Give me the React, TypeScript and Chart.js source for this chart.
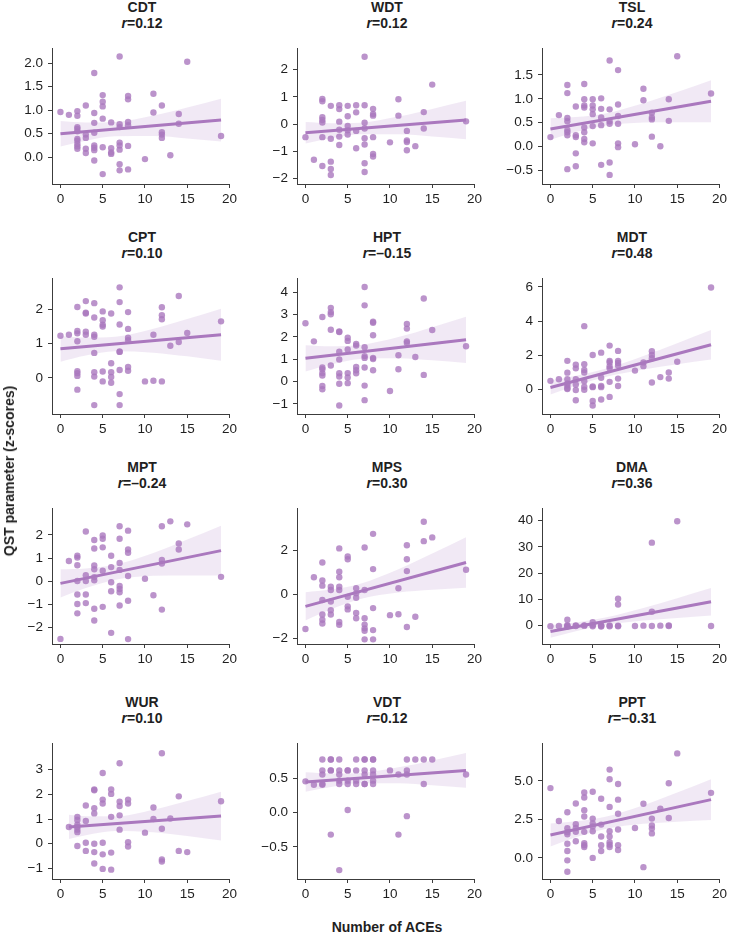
import React, { useEffect, useRef } from "react";
import { Chart, registerables } from "chart.js";

Chart.register(...registerables);

// ---------- shared axis values ----------
const aceTicks = [0, 5, 10, 15, 20];
const bandX = [0, 3, 6.5, 11, 15, 19];
const bandXWur = [1, 3, 6.5, 11, 15, 19];

// ---------- CDT ----------
const cdtPoints = [
  [0, 0.96], [1, 0.9],
  [2, 0.98], [2, 0.88], [2, 0.64], [2, 0.6], [2, 0.55], [2, 0.39], [2, 0.35], [2, 0.28], [2, 0.23], [2, 0.18],
  [3, 1.1], [3, 0.48], [3, 0.41], [3, 0.18], [3, 0.09],
  [4, 1.79], [4, 0.94], [4, 0.73], [4, 0.52], [4, 0.25], [4, 0.2], [4, 0.15], [4, -0.07],
  [5, 1.32], [5, 1.18], [5, 1.08], [5, 0.82], [5, 0.21], [5, -0.36],
  [6, 0.74], [6, 0.19], [6, 0.1], [6, 0.07],
  [7, 2.14], [7, 0.7], [7, 0.64], [7, 0.31], [7, 0.25], [7, 0.16], [7, -0.15], [7, -0.28],
  [8, 1.3], [8, 1.23], [8, 0.75], [8, 0.68], [8, 0.24], [8, -0.26],
  [10, -0.04], [11, 1.35], [11, 0.95], [12, 1.1], [12, 0.53], [12, 0.48], [12, 0.41],
  [13, 0.04], [14, 0.92], [14, 0.71], [15, 2.03], [19, 0.45],
];
const cdtFit = [0.5, 0.79];
const cdtHi = [0.77, 0.74, 0.75, 0.885, 1.058, 1.245];
const cdtLo = [0.23, 0.352, 0.447, 0.451, 0.4, 0.335];
const cdtTicks = [0, 0.5, 1, 1.5, 2];

// ---------- WDT ----------
const wdtPoints = [
  [0, -0.48], [1, -1.31],
  [2, 0.92], [2, 0.84], [2, 0.25], [2, 0.15], [2, 0.06], [2, -0.48], [2, -1.54],
  [3, 0.67], [3, -0.54], [3, -1.38], [3, -1.65], [3, -1.87],
  [4, 0.69], [4, 0.55], [4, 0.09], [4, -0.21], [4, -0.46], [4, -0.77],
  [5, 0.67], [5, 0.29], [5, -0.07], [5, -0.23], [5, -0.38],
  [6, 0.69], [6, 0.43], [6, -0.25], [6, -0.89],
  [7, 2.47], [7, 0.69], [7, 0.05], [7, -0.16], [7, -0.52], [7, -0.75], [7, -1.44], [7, -1.76],
  [8, 0.56], [8, 0.37], [8, 0.31], [8, -0.48], [8, -1.1], [8, -1.19],
  [10, -0.67], [11, 0.91], [11, 0.31], [12, -0.25], [12, -0.6], [12, -0.66], [12, -0.96],
  [13, -0.81], [14, 0.44], [14, -0.16], [15, 1.45], [19, 0.1],
];
const wdtFit = [-0.32, 0.15];
const wdtHi = [0.075, 0.029, 0.052, 0.276, 0.556, 0.855];
const wdtLo = [-0.715, -0.521, -0.37, -0.372, -0.454, -0.555];
const wdtTicks = [-2, -1, 0, 1, 2];

// ---------- TSL ----------
const tslPoints = [
  [0, 0.2], [1, 0.66],
  [2, 1.29], [2, 1.12], [2, 0.6], [2, 0.53], [2, 0.35], [2, 0.3], [2, 0.24], [2, -0.47],
  [3, 0.84], [3, 0.24], [3, 0.2], [3, -0.14], [3, -0.41],
  [4, 1.31], [4, 0.99], [4, 0.86], [4, 0.82], [4, 0.4], [4, 0.3], [4, 0.16], [4, 0.09],
  [5, 0.99], [5, 0.86], [5, 0.78], [5, 0.68], [5, 0.43], [5, 0.07],
  [6, 1.01], [6, 0.79], [6, 0.61], [6, 0.45], [6, -0.38],
  [7, 1.8], [7, 0.78], [7, 0.53], [7, 0.48], [7, -0.33], [7, -0.59],
  [8, 1.6], [8, 0.88], [8, 0.64], [8, 0.48], [8, 0.07], [8, -0.01],
  [10, 0.05], [11, 1.21], [11, 0.97], [12, 0.71], [12, 0.61], [12, 0.57], [12, 0.21],
  [13, 0.01], [14, 0.99], [14, 0.54], [15, 1.89], [19, 1.11],
];
const tslFit = [0.37, 0.95];
const tslHi = [0.595, 0.619, 0.694, 0.908, 1.143, 1.39];
const tslLo = [0.145, 0.305, 0.442, 0.504, 0.513, 0.51];
const tslTicks = [-0.5, 0, 0.5, 1, 1.5];

// ---------- CPT ----------
const cptPoints = [
  [0, 1.23], [1, 1.26],
  [2, 2.07], [2, 1.37], [2, 1.3], [2, 1.07], [2, 0.2], [2, 0.14], [2, 0.06], [2, -0.34],
  [3, 2.24], [3, 1.9], [3, 1.88], [3, 1.35], [3, 1.26],
  [4, 2.18], [4, 1.76], [4, 1.26], [4, 1.2], [4, 0.73], [4, 0.17], [4, 0.04], [4, -0.79],
  [5, 1.94], [5, 1.68], [5, 1.55], [5, 1.5], [5, 0.19], [5, -0.1],
  [6, 1.88], [6, 0.43], [6, 0.17], [6, 0.03], [6, -0.14],
  [7, 2.64], [7, 2.21], [7, 1.56], [7, 0.77], [7, 0.76], [7, 0.23], [7, -0.47], [7, -0.79],
  [8, 1.92], [8, 1.43], [8, 1.17], [8, 1.1], [8, 0.32], [8, 0.21],
  [10, -0.1], [11, 1.26], [11, -0.08], [12, 2.06], [12, 1.83], [12, 1.71], [12, -0.1],
  [13, 0.94], [14, 2.39], [14, 1.05], [15, 1.31], [19, 1.65],
];
const cptFit = [0.85, 1.26];
const cptHi = [1.225, 1.176, 1.204, 1.436, 1.718, 2.02];
const cptLo = [0.475, 0.654, 0.776, 0.738, 0.63, 0.5];
const cptTicks = [0, 1, 2];

// ---------- HPT ----------
const hptPoints = [
  [0, 2.61], [1, 1.8],
  [2, 2.89], [2, 0.63], [2, 0.55], [2, 0.38], [2, 0.27], [2, -0.2], [2, -0.34],
  [3, 3.3], [3, 3.11], [3, 3.01], [3, 2.32], [3, 0.72],
  [4, 2.24], [4, 2.22], [4, 1.34], [4, 0.99], [4, 0.37], [4, 0.23], [4, -0.1], [4, -1.07],
  [5, 1.96], [5, 1.82], [5, 1.44], [5, 0.38], [5, 0.18], [5, -0.07],
  [6, 1.68], [6, 1.61], [6, 0.65], [6, 0.51], [6, 0.37],
  [7, 4.23], [7, 3.41], [7, 1.54], [7, 1.14], [7, 1.06], [7, 0.63], [7, -0.18], [7, -0.83],
  [8, 2.68], [8, 2.63], [8, 2.07], [8, 1.06], [8, 1.01], [8, 0.51],
  [10, -0.42], [11, 1.18], [11, 0.55], [12, 2.58], [12, 2.37], [12, 1.8], [12, 1.73],
  [13, 1.1], [14, 3.72], [14, 0.3], [15, 2.31], [19, 1.58],
];
const hptFit = [1.04, 1.87];
const hptHi = [1.625, 1.578, 1.635, 1.995, 2.436, 2.905];
const hptLo = [0.455, 0.764, 1.013, 1.045, 0.954, 0.835];
const hptTicks = [-1, 0, 1, 2, 3, 4];

// ---------- MDT ----------
const mdtPoints = [
  [0, 0.5], [1, 0.59],
  [2, 1.67], [2, 0.98], [2, 0.59], [2, 0.35], [2, 0.22], [2, 0.07], [2, 0.02],
  [3, 1.44], [3, 1.23], [3, 0.59], [3, 0.29], [3, -0.04], [3, -0.64],
  [4, 3.7], [4, 1.47], [4, 1.14], [4, 0.99], [4, 0.48], [4, 0.15], [4, -0.02],
  [5, 2.01], [5, 0.17], [5, 0.13], [5, -0.68], [5, -0.94],
  [6, 2.15], [6, 0.68], [6, 0.2], [6, 0.13], [6, -0.59],
  [7, 2.56], [7, 1.67], [7, 1.58], [7, 1.36], [7, 1.23], [7, 0.44], [7, -0.44],
  [8, 2.25], [8, 1.67], [8, 1.55], [8, 1.4], [8, 0.63], [8, 0.2],
  [10, 1.1], [11, 1.58], [11, 1.36], [12, 2.23], [12, 2.01], [12, 1.82], [12, 0.4],
  [13, 0.72], [14, 0.99], [14, 0.63], [15, 1.62], [19, 5.96],
];
const mdtFit = [0.11, 2.61];
const mdtHi = [0.525, 0.794, 1.205, 1.955, 2.703, 3.475];
const mdtLo = [-0.305, 0.216, 0.725, 1.161, 1.465, 1.745];
const mdtTicks = [0, 2, 4, 6];

// ---------- MPT ----------
const mptPoints = [
  [0, -2.48], [1, 0.87],
  [2, 1.1], [2, 1.02], [2, 0.69], [2, 0.01], [2, -0.57], [2, -0.98], [2, -1.38],
  [3, 2.14], [3, 0.26], [3, 0.01], [3, -0.57], [3, -0.94],
  [4, 1.78], [4, 1.41], [4, 0.68], [4, 0.52], [4, 0.18], [4, 0.04], [4, -1.18], [4, -1.69],
  [5, 1.97], [5, 1.83], [5, 1.46], [5, 0.45], [5, -1.1],
  [6, 1.1], [6, 0.61], [6, -0.04], [6, -0.43], [6, -2.22],
  [7, 2.37], [7, 1.83], [7, 0.79], [7, 0.49], [7, -0.2], [7, -0.33], [7, -0.47], [7, -1.04],
  [8, 2.18], [8, 1.37], [8, 1.23], [8, 0.23], [8, -0.84], [8, -2.49],
  [10, 0.11], [11, -0.6], [12, 2.37], [12, 0.92], [12, 0.76], [12, -1.22],
  [13, 2.58], [14, 1.63], [14, 1.37], [15, 2.45], [19, 0.19],
];
const mptFit = [-0.09, 1.32];
const mptHi = [0.515, 0.554, 0.714, 1.219, 1.793, 2.395];
const mptLo = [-0.695, -0.288, 0.07, 0.233, 0.253, 0.245];
const mptTicks = [-2, -1, 0, 1, 2];

// ---------- MPS ----------
const mpsPoints = [
  [0, -1.56], [1, 0.79],
  [2, 1.46], [2, 0.64], [2, 0.41], [2, -0.24], [2, -0.9], [2, -1.14], [2, -1.31],
  [3, 0.36], [3, 0.21], [3, -0.31], [3, -0.71], [3, -0.9],
  [4, 2.1], [4, 1.04], [4, 0.79], [4, 0.36], [4, 0.21], [4, -1.24], [4, -1.37],
  [5, 1.73], [5, 1.61], [5, -0.1], [5, -0.53], [5, -0.67],
  [6, 0.29], [6, 0.06], [6, -0.14], [6, -0.83], [6, -1.07],
  [7, 2.14], [7, 0.21], [7, -1.07], [7, -1.36], [7, -1.53], [7, -1.64], [7, -2.03],
  [8, 2.76], [8, 1.16], [8, -0.61], [8, -1.61], [8, -2.03],
  [10, -0.93], [11, 0.29], [11, -0.89], [12, 2.24], [12, 1.61], [12, 1.07], [12, -1.47],
  [13, -1.0], [14, 3.31], [14, 2.43], [15, 2.6], [19, 1.13],
];
const mpsFit = [-0.53, 1.46];
const mpsHi = [0.11, 0.229, 0.494, 1.15, 1.864, 2.61];
const mpsLo = [-1.17, -0.661, -0.192, 0.094, 0.218, 0.31];
const mpsTicks = [-2, 0, 2];

// ---------- DMA ----------
const dmaPoints = [
  [0, -0.3], [1, -0.2], [2, 2.2], [2, 0.1], [2, -0.4], [2, -0.2], [3, -0.2], [3, 0.0],
  [4, -0.1], [4, 0.0], [5, 1.2], [5, 0.1], [5, -0.3], [6, -0.2], [6, 0.1], [6, -0.4],
  [7, 0.0], [7, -0.3], [8, 10.2], [8, 8.0], [8, -0.1], [8, -0.3], [10, -0.2], [11, -0.1],
  [12, 31.6], [12, 5.2], [12, -0.2], [13, -0.1], [14, -0.2], [14, 0.0], [15, 39.8], [19, -0.2],
];
const dmaFit = [-2.3, 9.0];
const dmaHi = [0.1, 1.154, 2.996, 6.652, 10.381, 14.25];
const dmaLo = [-4.7, -2.186, 0.136, 1.832, 2.861, 3.75];
const dmaTicks = [0, 10, 20, 30, 40];

// ---------- WUR ----------
const wurPoints = [
  [1, 0.68],
  [2, 1.09], [2, 0.96], [2, 0.77], [2, 0.68], [2, 0.57], [2, 0.47], [2, -0.09],
  [3, 1.55], [3, 0.92], [3, 0.04], [3, -0.29],
  [4, 2.2], [4, 2.17], [4, 1.44], [4, 1.23], [4, 0.0], [4, -0.34], [4, -0.8],
  [5, 2.87], [5, 1.79], [5, 1.63], [5, 0.04], [5, -0.43], [5, -1.02],
  [6, 2.2], [6, 2.02], [6, 1.09], [6, -0.36], [6, -1.05],
  [7, 3.26], [7, 1.7], [7, 1.53], [7, 1.15], [7, 0.57],
  [8, 1.79], [8, 1.63], [8, 0.06], [8, -0.11],
  [10, 0.45], [11, 1.47], [11, 1.0], [12, 3.67], [12, 0.61], [12, -0.64], [12, -0.72],
  [13, 1.02], [14, 1.92], [14, -0.29], [15, -0.34], [19, 1.72],
];
const wurFit = [0.68, 1.12];
const wurHi = [1.17, 1.112, 1.109, 1.378, 1.731, 2.11];
const wurLo = [0.19, 0.346, 0.519, 0.47, 0.313, 0.13];
const wurTicks = [-1, 0, 1, 2, 3];

// ---------- VDT ----------
const vdtPoints = [
  [0, 0.46], [1, 0.41],
  [2, 0.78], [2, 0.62], [2, 0.56], [2, 0.42], [2, 0.41],
  [3, 0.78], [3, 0.78], [3, 0.62], [3, 0.62], [3, -0.32],
  [4, 0.78], [4, 0.62], [4, 0.56], [4, 0.47], [4, 0.42], [4, -0.84],
  [5, 0.62], [5, 0.62], [5, 0.47], [5, 0.42], [5, 0.04],
  [6, 0.78], [6, 0.62], [6, 0.47], [6, 0.42],
  [7, 0.78], [7, 0.78], [7, 0.62], [7, 0.56], [7, 0.42], [7, 0.42],
  [8, 0.78], [8, 0.78], [8, 0.62], [8, 0.56], [8, 0.47], [8, 0.42],
  [10, 0.62], [11, 0.56], [11, -0.32], [12, 0.78], [12, 0.62], [12, 0.56], [12, -0.05],
  [13, 0.78], [14, 0.78], [14, 0.42], [15, 0.78], [19, 0.56],
];
const vdtFit = [0.45, 0.62];
const vdtHi = [0.5925, 0.576, 0.584, 0.665, 0.767, 0.875];
const vdtLo = [0.3075, 0.378, 0.432, 0.431, 0.401, 0.365];
const vdtTicks = [-0.5, 0, 0.5];

// ---------- PPT ----------
const pptPoints = [
  [0, 4.53], [1, 2.39],
  [2, 2.96], [2, 1.92], [2, 1.67], [2, 1.53], [2, 0.92], [2, 0.45], [2, -0.16], [2, -0.9],
  [3, 3.53], [3, 2.18], [3, 1.94], [3, 1.69], [3, 1.08],
  [4, 4.24], [4, 3.92], [4, 3.1], [4, 2.69], [4, 1.69], [4, 0.96], [4, 0.82], [4, 0.71],
  [5, 4.29], [5, 2.55], [5, 2.24], [5, 2.04], [5, 1.73], [5, 0.0],
  [6, 3.84], [6, 2.16], [6, 1.39], [6, 0.82], [6, 0.45],
  [7, 5.73], [7, 5.1], [7, 3.31], [7, 1.73], [7, 1.39], [7, 1.02], [7, 0.86], [7, 0.71],
  [8, 4.8], [8, 3.78], [8, 2.86], [8, 1.84], [8, 0.82], [8, 0.51],
  [10, 1.94], [11, 3.51], [11, -0.6], [12, 2.55], [12, 2.1], [12, 1.9], [12, 1.59],
  [13, 3.2], [14, 4.84], [14, 2.59], [15, 6.78], [19, 4.22],
];
const pptFit = [1.49, 3.78];
const pptHi = [2.235, 2.371, 2.67, 3.424, 4.247, 5.105];
const pptLo = [0.745, 1.333, 1.876, 2.208, 2.349, 2.455];
const pptTicks = [0, 2.5, 5];

// ---------- panel table (grid order, left to right, top to bottom) ----------
type PanelDef = {
  name: string;
  r: string;
  pts: number[][];
  fit: number[];
  hi: number[];
  lo: number[];
  bx: number[];
  ticks: number[];
  dec: number;
  yMin: number;
  yMax: number;
};

const panels: PanelDef[] = [
  { name: "CDT", r: "0.12", pts: cdtPoints, fit: cdtFit, hi: cdtHi, lo: cdtLo, bx: bandX, ticks: cdtTicks, dec: 1, yMin: -0.57, yMax: 2.32 },
  { name: "WDT", r: "0.12", pts: wdtPoints, fit: wdtFit, hi: wdtHi, lo: wdtLo, bx: bandX, ticks: wdtTicks, dec: 0, yMin: -2.2, yMax: 2.79 },
  { name: "TSL", r: "0.24", pts: tslPoints, fit: tslFit, hi: tslHi, lo: tslLo, bx: bandX, ticks: tslTicks, dec: 1, yMin: -0.78, yMax: 2.06 },
  { name: "CPT", r: "0.10", pts: cptPoints, fit: cptFit, hi: cptHi, lo: cptLo, bx: bandX, ticks: cptTicks, dec: 0, yMin: -1.05, yMax: 2.91 },
  { name: "HPT", r: "\u20130.15", pts: hptPoints, fit: hptFit, hi: hptHi, lo: hptLo, bx: bandX, ticks: hptTicks, dec: 0, yMin: -1.45, yMax: 4.63 },
  { name: "MDT", r: "0.48", pts: mdtPoints, fit: mdtFit, hi: mdtHi, lo: mdtLo, bx: bandX, ticks: mdtTicks, dec: 0, yMin: -1.44, yMax: 6.51 },
  { name: "MPT", r: "\u20130.24", pts: mptPoints, fit: mptFit, hi: mptHi, lo: mptLo, bx: bandX, ticks: mptTicks, dec: 0, yMin: -2.7, yMax: 3.15 },
  { name: "MPS", r: "0.30", pts: mpsPoints, fit: mpsFit, hi: mpsHi, lo: mpsLo, bx: bandX, ticks: mpsTicks, dec: 0, yMin: -2.24, yMax: 3.93 },
  { name: "DMA", r: "0.36", pts: dmaPoints, fit: dmaFit, hi: dmaHi, lo: dmaLo, bx: bandX, ticks: dmaTicks, dec: 0, yMin: -7.1, yMax: 44.8 },
  { name: "WUR", r: "0.10", pts: wurPoints, fit: wurFit, hi: wurHi, lo: wurLo, bx: bandXWur, ticks: wurTicks, dec: 0, yMin: -1.43, yMax: 4.08 },
  { name: "VDT", r: "0.12", pts: vdtPoints, fit: vdtFit, hi: vdtHi, lo: vdtLo, bx: bandX, ticks: vdtTicks, dec: 1, yMin: -0.97, yMax: 1.02 },
  { name: "PPT", r: "\u20130.31", pts: pptPoints, fit: pptFit, hi: pptHi, lo: pptLo, bx: bandX, ticks: pptTicks, dec: 1, yMin: -1.37, yMax: 7.45 },
];

// ---------- layout & style ----------
const COL_LEFT = [52, 297, 542];
const ROW_TOP = [40, 270, 500, 735];
const PLOT_W = 180;
const PLOT_H = 144;
const Y_AXIS_W = 45;
const X_AXIS_H = 25;
const PAD_TOP = 5;
const PAD_RIGHT = 8;

const FONT = "'Liberation Sans', Arial, Helvetica, sans-serif";
const TEXT = "#1f1f1f";
const AXIS = "#3c3c3c";
const LINE = "rgb(170,120,190)";
const DOT = "rgba(170,120,190,0.8)";
const BAND = "rgba(170,120,190,0.16)";

const fmt = (v: number, d: number) => (v < 0 ? "\u2212" : "") + Math.abs(v).toFixed(d);

function ScatterPanel({ p, left, top }: { p: PanelDef; left: number; top: number }) {
  const ref = useRef<HTMLCanvasElement>(null);

  useEffect(() => {
    const last = p.bx.length - 1;
    const chart = new Chart(ref.current as HTMLCanvasElement, {
      type: "scatter",
      data: {
        datasets: [
          {
            type: "line",
            data: [
              { x: p.bx[0], y: p.fit[0] },
              { x: p.bx[last], y: p.fit[1] },
            ],
            borderColor: LINE,
            borderWidth: 3,
            pointRadius: 0,
            fill: false,
          },
          {
            type: "scatter",
            data: p.pts.map(([x, y]) => ({ x, y })),
            backgroundColor: DOT,
            borderWidth: 0,
            pointRadius: 3.2,
          },
          {
            type: "line",
            data: p.bx.map((x, i) => ({ x, y: p.hi[i] })),
            borderColor: "transparent",
            borderWidth: 0,
            pointRadius: 0,
            fill: false,
            cubicInterpolationMode: "monotone",
          },
          {
            type: "line",
            data: p.bx.map((x, i) => ({ x, y: p.lo[i] })),
            borderColor: "transparent",
            borderWidth: 0,
            pointRadius: 0,
            backgroundColor: BAND,
            fill: "-1",
            cubicInterpolationMode: "monotone",
          },
        ],
      } as any,
      options: {
        animation: false,
        responsive: false,
        events: [],
        layout: { padding: { top: PAD_TOP, right: PAD_RIGHT, left: 0, bottom: 0 } },
        plugins: { legend: { display: false }, tooltip: { enabled: false }, title: { display: false } },
        scales: {
          x: {
            type: "linear",
            min: -1,
            max: 20,
            afterBuildTicks: (s: any) => {
              s.ticks = aceTicks.map((v) => ({ value: v }));
            },
            afterFit: (s: any) => {
              s.height = X_AXIS_H;
            },
            grid: { display: true, drawOnChartArea: false, drawTicks: true, tickLength: 4, color: AXIS, tickColor: AXIS },
            border: { display: true, color: AXIS, width: 1 },
            ticks: {
              color: TEXT,
              font: { family: FONT, size: 13.5 },
              padding: 3,
              maxRotation: 0,
              autoSkip: false,
              callback: (v: any) => fmt(Number(v), 0),
            },
          },
          y: {
            type: "linear",
            min: p.yMin,
            max: p.yMax,
            afterBuildTicks: (s: any) => {
              s.ticks = p.ticks.map((v) => ({ value: v }));
            },
            afterFit: (s: any) => {
              s.width = Y_AXIS_W;
            },
            grid: { display: true, drawOnChartArea: false, drawTicks: true, tickLength: 4, color: AXIS, tickColor: AXIS },
            border: { display: true, color: AXIS, width: 1 },
            ticks: {
              color: TEXT,
              font: { family: FONT, size: 13.5 },
              padding: 5,
              autoSkip: false,
              callback: (v: any) => fmt(Number(v), p.dec),
            },
          },
        },
      } as any,
    });
    return () => chart.destroy();
  }, [p]);

  const w = Y_AXIS_W + PLOT_W + PAD_RIGHT;
  const h = PAD_TOP + PLOT_H + X_AXIS_H;

  return (
    <>
      <canvas
        ref={ref}
        width={w}
        height={h}
        style={{ position: "absolute", left: left - Y_AXIS_W, top: top - PAD_TOP, width: w, height: h }}
      />
      <div
        style={{
          position: "absolute",
          left,
          top: top - 41,
          width: PLOT_W,
          textAlign: "center",
          fontFamily: FONT,
          fontWeight: "bold",
          fontSize: 14,
          lineHeight: "16px",
          color: TEXT,
        }}
      >
        <div>{p.name}</div>
        <div>
          <i>r</i>={p.r}
        </div>
      </div>
    </>
  );
}

export default function App() {
  return (
    <div
      style={{
        position: "absolute",
        left: 0,
        top: 0,
        width: 730,
        height: 939,
        background: "#ffffff",
        overflow: "hidden",
      }}
    >
      {panels.map((p, i) => (
        <ScatterPanel key={p.name} p={p} left={COL_LEFT[i % 3]} top={ROW_TOP[Math.floor(i / 3)]} />
      ))}
      <div
        style={{
          position: "absolute",
          left: 9,
          top: 471,
          transform: "translate(-50%, -50%) rotate(-90deg)",
          whiteSpace: "nowrap",
          fontFamily: FONT,
          fontWeight: "bold",
          fontSize: 14,
          color: TEXT,
        }}
      >
        QST parameter (z-scores)
      </div>
      <div
        style={{
          position: "absolute",
          left: 387,
          top: 927,
          transform: "translate(-50%, -50%)",
          whiteSpace: "nowrap",
          fontFamily: FONT,
          fontWeight: "bold",
          fontSize: 14,
          color: TEXT,
        }}
      >
        Number of ACEs
      </div>
    </div>
  );
}
